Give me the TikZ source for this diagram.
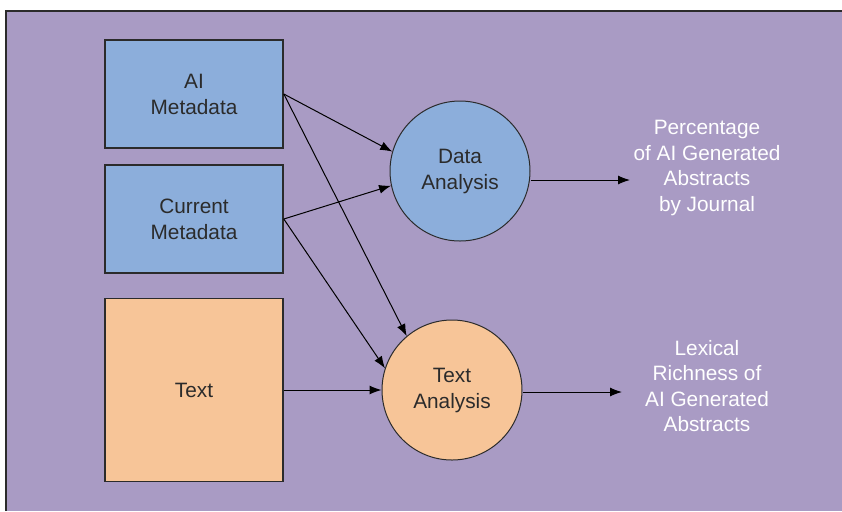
\documentclass[tikz,border=0pt]{standalone}
\usepackage{fontspec}
\setmainfont{Liberation Sans}
\usetikzlibrary{arrows.meta}
\definecolor{panelpurple}{HTML}{A99BC4}
\definecolor{boxblue}{HTML}{8CAEDB}
\definecolor{boxorange}{HTML}{F7C598}
\definecolor{inkgray}{HTML}{2B2B2B}
\tikzset{arrow/.style={-{Latex[length=6pt,width=4.5pt]}, line width=0.5pt, black}}
\tikzset{inbox/.style={draw=inkgray, line width=0.8pt, minimum width=89pt, minimum height=54pt, align=center, text=inkgray, font=\fontsize{10.4}{13}\selectfont}}
\tikzset{step-circle/.style={circle, draw=inkgray, line width=0.5pt, minimum size=70pt, inner sep=0pt, align=center, text=inkgray, font=\fontsize{10.4}{13}\selectfont}}
\tikzset{outtext/.style={align=center, text=white, font=\fontsize{10.4}{12.75}\selectfont}}

\begin{document}
\begin{tikzpicture}[x=0.5pt, y=-0.5pt]
      \useasboundingbox (0,0) rectangle (842,511);
      \fill[panelpurple] (6,11) rectangle (842,511);
      \draw[inkgray, line width=0.6pt] (6,511) -- (6,11) -- (842,11);

      \node[inbox, fill=boxblue] (ai) at (194, 94) {AI\\Metadata};
      \node[inbox, fill=boxblue] (cm) at (194, 219) {Current\\Metadata};
      \node[inbox, fill=boxorange, minimum height=91.5pt] (txt) at (194, 390) {Text};

      \node[step-circle, fill=boxblue] (da) at (460, 171) {Data\\Analysis};
      \node[step-circle, fill=boxorange] (ta) at (452, 390) {Text\\Analysis};

      \node[outtext] (pct) at (707, 168) {Percentage\\of AI Generated\\Abstracts\\by Journal};
      \node[outtext] (lex) at (707, 386) {Lexical\\Richness of\\AI Generated\\Abstracts};

      \coordinate (pctin) at (630, 180);
      \coordinate (lexin) at (622, 392);

      \draw[arrow] (ai.east) -- (da.164);
      \draw[arrow] (ai.east) -- (ta.130);
      \draw[arrow] (cm.east) -- (da.192);
      \draw[arrow] (cm.east) -- (ta.162);
      \draw[arrow] (txt.east) -- (ta.west);
      \draw[arrow] (da.east |- pctin) -- (pctin);
      \draw[arrow] (ta.east |- lexin) -- (lexin);
    \end{tikzpicture}
\end{document}
